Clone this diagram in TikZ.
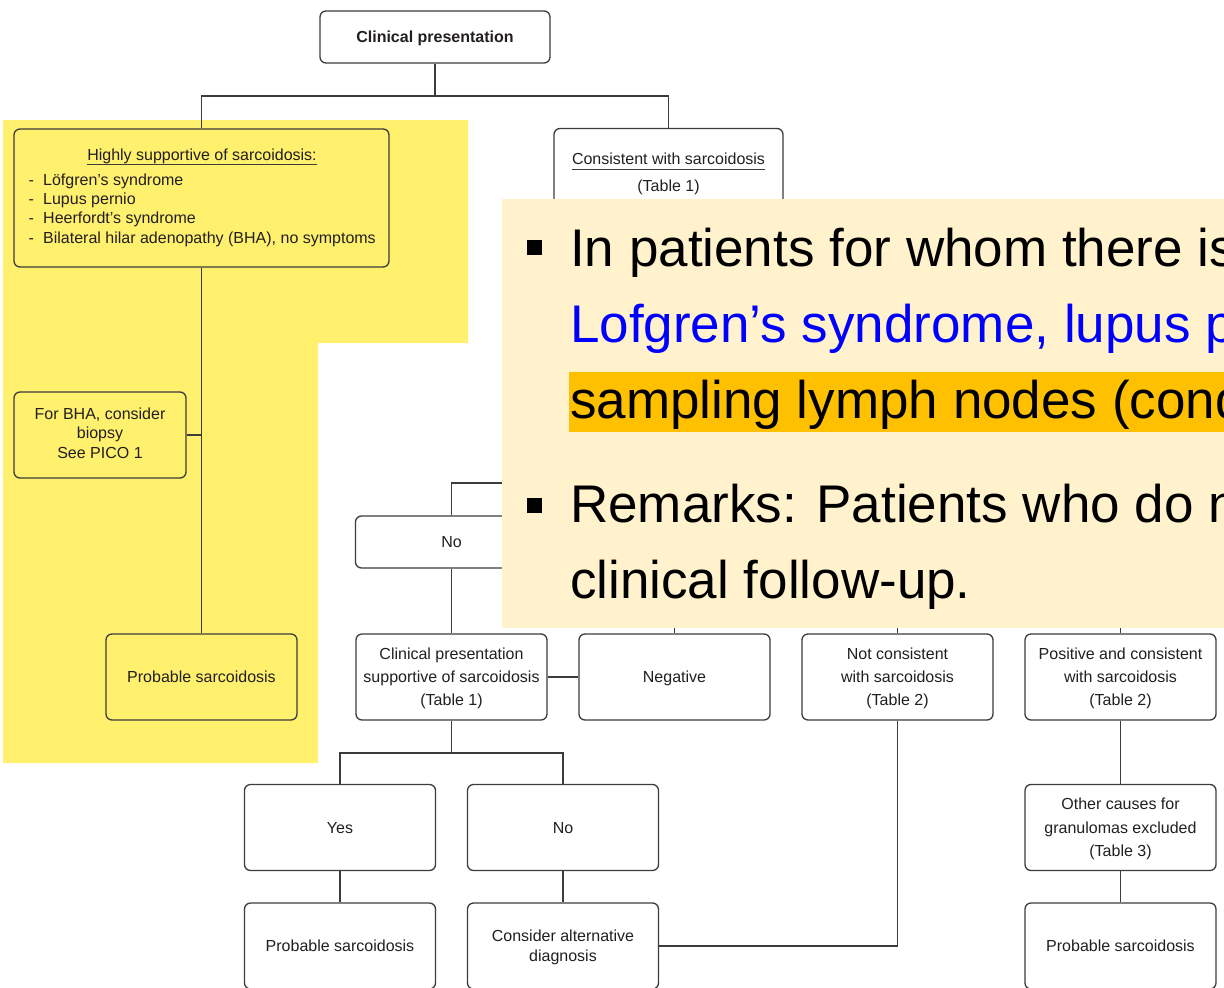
\documentclass[tikz,border=0pt]{standalone}
\usepackage{fontspec}
\setmainfont{Liberation Sans}

\definecolor{hiyellow}{RGB}{255,240,110}
\definecolor{notebg}{RGB}{255,242,204}
\definecolor{hlorange}{RGB}{255,192,0}
\definecolor{linegray}{RGB}{60,60,60}
\definecolor{txt}{RGB}{35,31,32}
\definecolor{noteblue}{RGB}{0,0,255}

\tikzset{
  box/.style={draw=linegray, line width=1.3pt, rounded corners=6pt, inner sep=0pt,
    align=center, text=txt, font=\fontsize{16}{23}\selectfont, text depth=0pt,
    minimum width=191pt, minimum height=86pt},
  tight/.style={font=\fontsize{16}{19.5}\selectfont},
  link/.style={draw=linegray, line width=1.3pt},
  plain/.style={inner sep=0pt, text=txt, font=\fontsize{16}{19.5}\selectfont},
  big/.style={inner sep=0pt, anchor=base west, text=black, font=\fontsize{53}{64}\selectfont},
  bulletsq/.style={fill=black, minimum size=15pt, inner sep=0pt},
}

\begin{document}
\begin{tikzpicture}[x=1pt,y=-1pt]
\useasboundingbox (0,0) rectangle (1224,988);
\clip (0,0) rectangle (1224,988);
\fill[white] (0,0) rectangle (1224,988);

% highlighted region behind the left branch
\fill[hiyellow] (3,120) -- (468,120) -- (468,343) -- (318,343) -- (318,763) -- (3,763) -- cycle;

% ---- top of the flowchart
\node[box, font=\bfseries\fontsize{16}{23}\selectfont, minimum width=230pt, minimum height=52pt] (cp) at (435,37) {Clinical presentation};

\node[box, minimum width=375pt, minimum height=138pt] (hs) at (201.5,198) {};
\node[plain, anchor=base] (hstitle) at (202,160) {Highly supportive of sarcoidosis:};
\draw[link, line width=1pt] ([yshift=-4pt]hstitle.base west) -- ([yshift=-4pt]hstitle.base east);
\foreach \t [count=\k] in {Löfgren’s syndrome, Lupus pernio, Heerfordt’s syndrome, {Bilateral hilar adenopathy (BHA), no symptoms}} {
  \node[plain, anchor=base west] (dash\k) at (28.5,{165.7+19.4*\k}) {-};
  \node[plain, anchor=base west] (item\k) at (43,{165.7+19.4*\k}) {\t};
}

\node[box, minimum width=229pt, minimum height=86pt] (cs) at (668.5,171.5) {};
\node[plain, anchor=base] (cstitle) at (668.5,164) {Consistent with sarcoidosis};
\draw[link, line width=1pt] ([yshift=-5pt]cstitle.base west) -- ([yshift=-5pt]cstitle.base east);
\node[plain, anchor=base] (cstab) at (668.5,191) {(Table 1)};

\coordinate (j1) at (435,96);
\draw[link] (cp.south) -- (j1);
\draw[link] (hs.north) |- (j1) -| (cs.north);

% ---- left branch
\node[box, tight, text depth=4pt, minimum width=172pt] (bha) at (100,435) {For BHA, consider\\biopsy\\See PICO 1};
\node[box] (ps1) at (201.5,677) {Probable sarcoidosis};
\draw[link] (hs.south) -- (ps1.north);
\draw[link] (bha.east) -- (bha.east -| hs.south);

% ---- middle and right branches
\node[box, minimum width=192pt, minimum height=52pt] (no1) at (451.5,542) {No};
\coordinate (hidA) at (560,483);
\draw[link] (no1.north) |- (hidA);

\node[box] (cps) at (451.5,677) {Clinical presentation\\supportive of sarcoidosis\\(Table 1)};
\node[box] (neg) at (674.5,677) {Negative};
\node[box] (nc) at (897.5,677) {Not consistent\\with sarcoidosis\\(Table 2)};
\node[box] (pc) at (1120.5,677) {Positive and consistent\\with sarcoidosis\\(Table 2)};

\draw[link] (no1.south) -- (cps.north);
\draw[link] (cps.east) -- (neg.west);
\coordinate (hidN) at (674.5,600);
\coordinate (hidC) at (897.5,600);
\coordinate (hidP) at (1120.5,600);
\draw[link] (neg.north) -- (hidN);
\draw[link] (nc.north) -- (hidC);
\draw[link] (pc.north) -- (hidP);

\node[box] (yes) at (340,827.5) {Yes};
\node[box] (no2) at (563,827.5) {No};
\coordinate (j3) at (451.5,753);
\draw[link] (cps.south) -- (j3);
\draw[link] (yes.north) |- (j3) -| (no2.north);

\node[box] (ps2) at (340,946) {Probable sarcoidosis};
\node[box, font=\fontsize{16}{20}\selectfont] (ca) at (563,946) {Consider alternative\\diagnosis};
\draw[link] (yes.south) -- (ps2.north);
\draw[link] (no2.south) -- (ca.north);
\draw[link] (ca.east) -| (nc.south);

\node[box, font=\fontsize{16}{23.5}\selectfont] (oc) at (1120.5,827.5) {Other causes for\\granulomas excluded\\(Table 3)};
\node[box] (ps3) at (1120.5,946) {Probable sarcoidosis};
\draw[link] (pc.south) -- (oc.north);
\draw[link] (oc.south) -- (ps3.north);

% ---- note panel laid over the chart
\node[fill=notebg, inner sep=0pt, minimum width=730pt, minimum height=429pt, anchor=north west] (note) at (502,199) {};
\fill[hlorange] (569,372) rectangle (1232,432);
\node[bulletsq] (bu1) at (534.5,247.5) {};
\node[bulletsq] (bu2) at (534.5,505.5) {};
\node[big] (l1) at (570,266) {In patients for whom there is};
\node[big, text=noteblue] (l2) at (570,342) {Lofgren’s syndrome, lupus p};
\node[big] (l3) at (570,418) {sampling lymph nodes (cond};
\node[big] (l4) at (570,522) {Remarks: Patients who do n};
\node[big] (l5) at (570,598) {clinical follow-up.};
\end{tikzpicture}
\end{document}
